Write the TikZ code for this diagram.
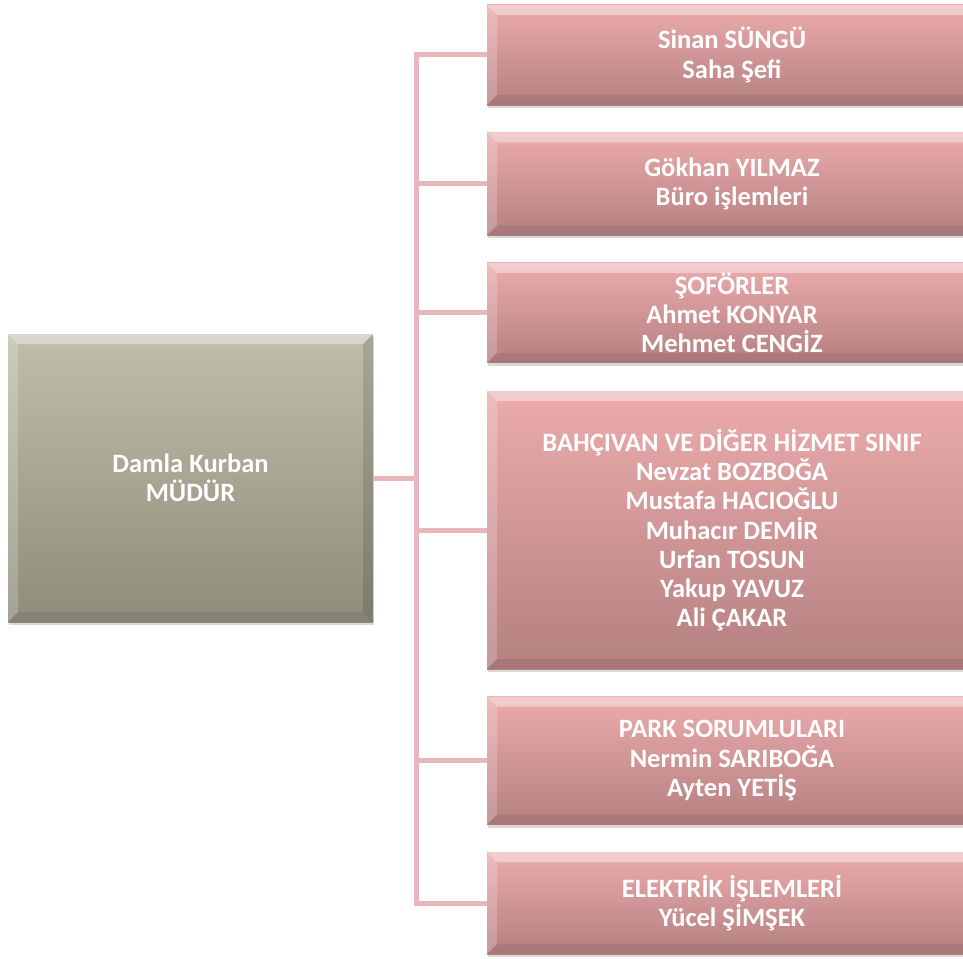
\documentclass[tikz,border=0pt]{standalone}
\usepackage{fontspec}
\setmainfont{Carlito}
\usetikzlibrary{positioning,shadows}
\definecolor{headtop}{RGB}{192,190,171}
\definecolor{headbot}{RGB}{143,140,123}
\definecolor{unittop}{RGB}{236,171,173}
\definecolor{unitbot}{RGB}{180,128,128}
\definecolor{linkpink}{RGB}{233,183,187}
\tikzset{
  bevel/.style={path picture={
    \coordinate (nw) at (path picture bounding box.north west);
    \coordinate (ne) at (path picture bounding box.north east);
    \coordinate (sw) at (path picture bounding box.south west);
    \coordinate (se) at (path picture bounding box.south east);
    \fill[white,opacity=.4] (nw) -- (ne) -- ([shift={(-10pt,-10pt)}]ne) -- ([shift={(10pt,-10pt)}]nw) -- cycle;
    \fill[white,opacity=.2] (nw) -- ([shift={(10pt,-10pt)}]nw) -- ([shift={(10pt,10pt)}]sw) -- (sw) -- cycle;
    \fill[black,opacity=.12] (ne) -- (se) -- ([shift={(-10pt,10pt)}]se) -- ([shift={(-10pt,-10pt)}]ne) -- cycle;
    \fill[black,opacity=.07] (sw) -- (se) -- ([shift={(-10pt,10pt)}]se) -- ([shift={(10pt,10pt)}]sw) -- cycle;
  }}
}

\begin{document}
\begin{tikzpicture}[
    x=1pt, y=1pt,
    node distance=27pt,
    every node/.style={font=\bfseries\fontsize{26.5}{29.3}\selectfont, align=center, text=white},
    card/.style={rectangle, inner sep=0pt, bevel, drop shadow={shadow xshift=1pt, shadow yshift=-3pt, opacity=.3}},
    head/.style={card, top color=headtop, bottom color=headbot, minimum width=365pt, minimum height=288pt},
    unit/.style={card, top color=unittop, bottom color=unitbot, minimum width=490pt},
    link/.style={draw=linkpink, line width=5pt}
]
\useasboundingbox (0,0) rectangle (963,-958);
% yonetici ve birimler
\node[head] (boss) at (190.5,-478) {Damla Kurban\\MÜDÜR};

\node[unit, minimum height=100pt] (saha) at (732,-55) {Sinan SÜNGÜ\\Saha Şefi};
\node[unit, minimum height=103pt, below=of saha] (buro) {Gökhan YILMAZ\\Büro işlemleri};
\node[unit, minimum height=100pt, below=of buro] (sofor) {ŞOFÖRLER\\Ahmet KONYAR\\Mehmet CENGİZ};
\node[unit, minimum height=278pt, below=28pt of sofor] (hizmet) {BAHÇIVAN VE DİĞER HİZMET SINIF\\Nevzat BOZBOĞA\\Mustafa HACIOĞLU\\Muhacır DEMİR\\Urfan TOSUN\\Yakup YAVUZ\\Ali ÇAKAR};
\node[unit, minimum height=128pt, below=of hizmet] (park) {PARK SORUMLULARI\\Nermin SARIBOĞA\\Ayten YETİŞ};
\node[unit, minimum height=102pt, below=of park] (elektrik) {ELEKTRİK İŞLEMLERİ\\Yücel ŞİMŞEK};

% baglantilar
\draw[link] (boss.east) -- ++(43,0) coordinate (fork);
\draw[link, line cap=rect] (fork |- saha.west) -- (fork |- elektrik.west);
\foreach \b in {saha,buro,sofor,hizmet,park,elektrik}
  \draw[link] (fork |- \b.west) -- (\b.west);
\end{tikzpicture}
\end{document}
